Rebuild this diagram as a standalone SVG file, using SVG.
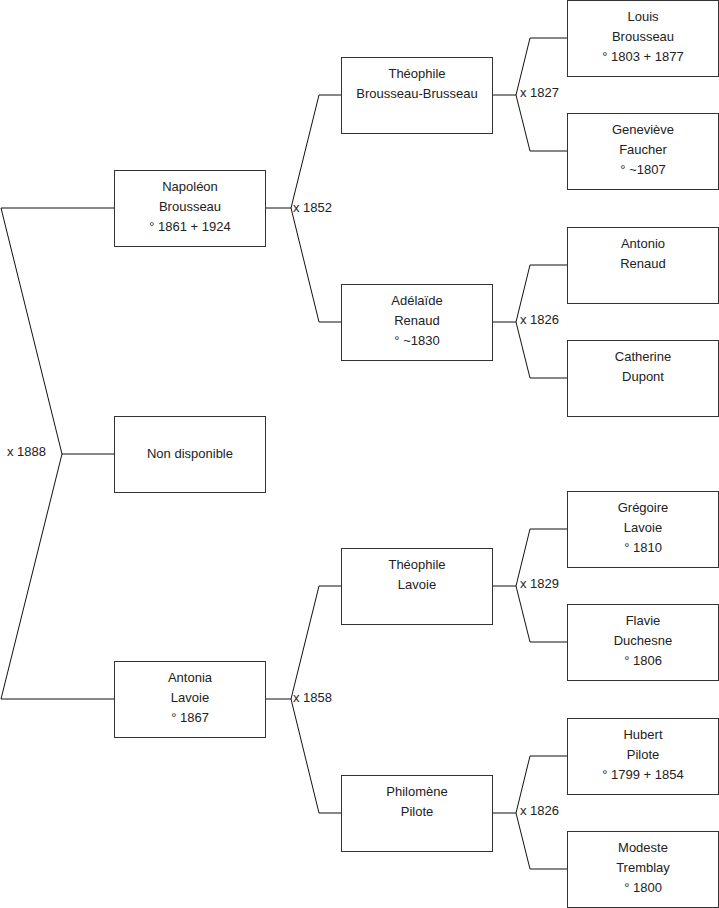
<svg xmlns="http://www.w3.org/2000/svg" width="719" height="908" viewBox="0 0 719 908">
<style>
rect.box{fill:#fff;stroke:#333;stroke-width:1}
.c{fill:none;stroke:#111;stroke-width:1}
text{font-family:"Liberation Sans",Arial,sans-serif;font-size:13px;fill:#222}
.n text{text-anchor:middle}
</style>
<rect width="719" height="908" fill="#fff"/>
<g id="connectors">
<polyline class="c" points="1,208 114,208"/>
<polyline class="c" points="1,699 114,699"/>
<polyline class="c" points="1,208 62,454 1,699"/>
<polyline class="c" points="62,454 114,454"/>
<text x="7" y="456">x 1888</text>
<polyline class="c" points="265,208 291,208"/>
<polyline class="c" points="341,95 319,95 291,208 319,322 341,322"/>
<text x="293" y="212">x 1852</text>
<polyline class="c" points="265,699 291,699"/>
<polyline class="c" points="341,586 319,586 291,699 319,813 341,813"/>
<text x="293" y="702">x 1858</text>
<polyline class="c" points="492,95 516,95"/>
<polyline class="c" points="567,38 530,38 516,95 530,151 567,151"/>
<text x="520" y="97">x 1827</text>
<polyline class="c" points="492,322 516,322"/>
<polyline class="c" points="567,265 530,265 516,322 530,378 567,378"/>
<text x="520" y="324">x 1826</text>
<polyline class="c" points="492,586 516,586"/>
<polyline class="c" points="567,529 530,529 516,586 530,642 567,642"/>
<text x="520" y="588">x 1829</text>
<polyline class="c" points="492,813 516,813"/>
<polyline class="c" points="567,756 530,756 516,813 530,869 567,869"/>
<text x="520" y="815">x 1826</text>
</g>
<g id="napoleon" class="n"><rect class="box" x="114.5" y="170.5" width="151" height="76"/><text x="190" y="191">Napoléon</text><text x="190" y="211">Brousseau</text><text x="190" y="231">° 1861 + 1924</text></g>
<g id="nondisponible" class="n"><rect class="box" x="114.5" y="416.5" width="151" height="76"/><text x="190" y="458">Non disponible</text></g>
<g id="antonia" class="n"><rect class="box" x="114.5" y="661.5" width="151" height="76"/><text x="190" y="682">Antonia</text><text x="190" y="702">Lavoie</text><text x="190" y="722">° 1867</text></g>
<g id="theophileB" class="n"><rect class="box" x="341.5" y="57.5" width="151" height="76"/><text x="417" y="78">Théophile</text><text x="417" y="98">Brousseau-Brusseau</text></g>
<g id="adelaide" class="n"><rect class="box" x="341.5" y="284.5" width="151" height="76"/><text x="417" y="305">Adélaïde</text><text x="417" y="325">Renaud</text><text x="417" y="345">° ~1830</text></g>
<g id="theophileL" class="n"><rect class="box" x="341.5" y="548.5" width="151" height="76"/><text x="417" y="569">Théophile</text><text x="417" y="589">Lavoie</text></g>
<g id="philomene" class="n"><rect class="box" x="341.5" y="775.5" width="151" height="76"/><text x="417" y="796">Philomène</text><text x="417" y="816">Pilote</text></g>
<g id="louis" class="n"><rect class="box" x="567.5" y="0.5" width="151" height="76"/><text x="643" y="21">Louis</text><text x="643" y="41">Brousseau</text><text x="643" y="61">° 1803 + 1877</text></g>
<g id="genevieve" class="n"><rect class="box" x="567.5" y="113.5" width="151" height="76"/><text x="643" y="134">Geneviève</text><text x="643" y="154">Faucher</text><text x="643" y="174">° ~1807</text></g>
<g id="antonio" class="n"><rect class="box" x="567.5" y="227.5" width="151" height="76"/><text x="643" y="248">Antonio</text><text x="643" y="268">Renaud</text></g>
<g id="catherine" class="n"><rect class="box" x="567.5" y="340.5" width="151" height="76"/><text x="643" y="361">Catherine</text><text x="643" y="381">Dupont</text></g>
<g id="gregoire" class="n"><rect class="box" x="567.5" y="491.5" width="151" height="76"/><text x="643" y="512">Grégoire</text><text x="643" y="532">Lavoie</text><text x="643" y="552">° 1810</text></g>
<g id="flavie" class="n"><rect class="box" x="567.5" y="604.5" width="151" height="76"/><text x="643" y="625">Flavie</text><text x="643" y="645">Duchesne</text><text x="643" y="665">° 1806</text></g>
<g id="hubert" class="n"><rect class="box" x="567.5" y="718.5" width="151" height="76"/><text x="643" y="739">Hubert</text><text x="643" y="759">Pilote</text><text x="643" y="779">° 1799 + 1854</text></g>
<g id="modeste" class="n"><rect class="box" x="567.5" y="831.5" width="151" height="76"/><text x="643" y="852">Modeste</text><text x="643" y="872">Tremblay</text><text x="643" y="892">° 1800</text></g>
</svg>
